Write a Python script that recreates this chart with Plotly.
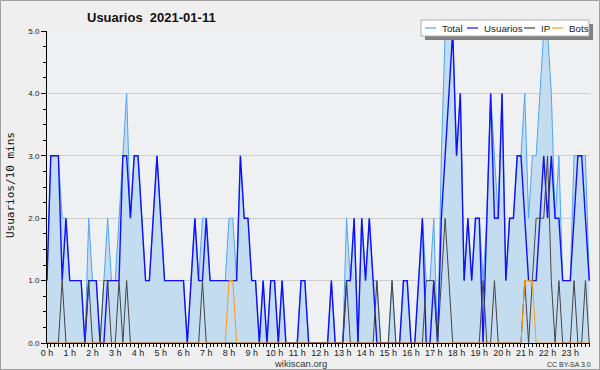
import plotly.graph_objects as go

# ---- data (10-minute slots, 144 per day) ----
usuarios = [1,3,3,3,1,2,1,1,1,1,0,1,1,1,0,0,1,1,1,1,3,3,2,3,
            3,2,1,1,2,3,2,1,1,1,1,1,1,0,1,2,1,1,2,1,1,1,1,1,
            1,1,1,3,2,2,1,1,0,1,0,1,1,0,1,0,0,0,0,1,1,0,0,0,
            0,0,0,1,0,0,0,1,1,2,0,2,1,2,1,0,0,0,0,0,0,0,1,1,
            0,0,1,2,0,0,1,0,2,3,4,5,3,4,1,2,1,2,2,0,2,4,2,2,
            4,1,2,2,3,3,2,1,1,1,2,3,2,3,2,2,1,1,1,2,3,3,2,1]
ip =       [0,0,0,0,1,0,0,0,0,0,0,1,0,0,0,1,1,0,0,1,0,1,0,0,
            0,0,0,0,0,0,0,0,0,0,0,0,0,0,0,0,0,1,0,0,0,0,0,0,
            0,0,0,0,0,0,0,0,0,0,0,0,0,0,0,0,0,0,0,0,0,0,0,0,
            0,0,0,0,0,0,0,1,0,0,0,0,0,0,0,1,0,0,0,1,0,0,0,0,
            0,0,0,0,1,1,1,0,1,2,1,0,0,0,0,0,0,0,0,1,0,0,1,0,
            0,0,0,0,0,0,1,0,1,2,2,2,3,1,0,1,0,0,0,1,0,0,1,0]
bots =     [0]*48 + [1,1] + [0]*76 + [1,1,1] + [0]*15
total =    [1,3,3,3,2,2,1,1,1,1,0,2,1,1,0,1,2,1,1,2,3,4,2,3,
            3,2,1,1,2,3,2,1,1,1,1,1,1,0,1,2,1,2,2,1,1,1,1,1,
            2,2,1,3,2,2,1,1,0,1,0,1,1,0,1,0,0,0,0,1,1,0,0,0,
            0,0,0,1,0,0,0,2,1,2,0,2,1,2,1,1,0,0,0,1,0,0,1,1,
            0,0,1,2,1,1,2,0,3,5,5,5,3,4,1,2,1,2,2,1,2,4,3,2,
            4,1,2,2,3,3,4,2,3,3,4,5,5,4,2,3,1,1,1,3,3,3,3,1]
slots = list(range(144))
hour_ticks = list(range(0, 144, 6))
hour_labels = [f"{h} h" for h in range(24)]
y_ticks = [0, 1, 2, 3, 4, 5]
y_labels = ["0.0", "1.0", "2.0", "3.0", "4.0", "5.0"]

title_text = "Usuarios  2021-01-11"
series_names = ["Total", "Usuarios", "IP", "Bots"]
series_colors = ["#4da6f5", "#1010ff", "#444444", "#ff9a10"]

W, H = 600, 370
L, R, T, B = 47, 10, 31, 27
PW, PH = W - L - R, H - T - B

def px(x):
    return (x - L) / PW

def py(y):
    return (H - B - y) / PH

fig = go.Figure()
fig.add_trace(go.Scatter(x=slots, y=total, mode="lines", name="Total",
                         line=dict(color=series_colors[0], width=1),
                         fill="tozeroy", fillcolor="#c4dcf0"))
fig.add_trace(go.Scatter(x=slots, y=usuarios, mode="lines", name="Usuarios",
                         line=dict(color=series_colors[1], width=1.4)))
fig.add_trace(go.Scatter(x=slots, y=ip, mode="lines", name="IP",
                         line=dict(color=series_colors[2], width=1)))
fig.add_trace(go.Scatter(x=slots, y=bots, mode="lines", name="Bots",
                         line=dict(color=series_colors[3], width=1)))

shapes = []
annotations = []

# outer border
shapes.append(dict(type="rect", xref="paper", yref="paper",
                   x0=px(0.5), x1=px(599.5), y0=py(369.5), y1=py(0.5),
                   line=dict(color="#a0a0a0", width=1), fillcolor="rgba(0,0,0,0)", layer="above"))

# legend shadow + box
shapes.append(dict(type="rect", xref="paper", yref="paper",
                   x0=px(425), x1=px(593), y0=py(40), y1=py(24),
                   line=dict(width=0), fillcolor="#808080", layer="above"))
shapes.append(dict(type="rect", xref="paper", yref="paper",
                   x0=px(421), x1=px(589), y0=py(36), y1=py(20),
                   line=dict(color="#b0b0b0", width=1), fillcolor="#ffffff", layer="above"))
leg_pos = [(425, 440), (467, 482), (524, 539), (552, 567)]
for (lx, tx), name, col in zip(leg_pos, series_names, series_colors):
    shapes.append(dict(type="line", xref="paper", yref="paper",
                       x0=px(lx), x1=px(lx + 11), y0=py(28), y1=py(28),
                       line=dict(color=col, width=1.2), layer="above"))
    annotations.append(dict(text=name, xref="paper", yref="paper", x=px(tx), y=py(28.5),
                            xanchor="left", yanchor="middle", showarrow=False,
                            font=dict(family="Liberation Sans", size=9.8, color="#222")))

annotations.append(dict(text=title_text, xref="paper", yref="paper", x=px(151), y=py(18),
                        xanchor="center", yanchor="middle", showarrow=False,
                        font=dict(family="Liberation Sans", size=13, color="#111", weight="bold")))
annotations.append(dict(text="Usuarios/10 mins", xref="paper", yref="paper", x=px(10), y=py(185),
                        xanchor="center", yanchor="middle", textangle=-90, showarrow=False,
                        font=dict(family="DejaVu Sans Mono", size=11, color="#111")))
annotations.append(dict(text="wikiscan.org", xref="paper", yref="paper", x=px(300), y=py(363.5),
                        xanchor="center", yanchor="middle", showarrow=False,
                        font=dict(family="Liberation Sans", size=9.5, color="#333")))
annotations.append(dict(text="CC BY-SA 3.0", xref="paper", yref="paper", x=px(569), y=py(364),
                        xanchor="center", yanchor="middle", showarrow=False,
                        font=dict(family="Liberation Sans", size=7, color="#333")))

fig.update_layout(
    width=W, height=H,
    margin=dict(l=L, r=R, t=T, b=B, pad=0),
    paper_bgcolor="#efefef", plot_bgcolor="#eef0f2",
    showlegend=False,
    shapes=shapes, annotations=annotations,
    xaxis=dict(range=[0, 143.2], tickvals=hour_ticks, ticktext=hour_labels,
               showgrid=False, zeroline=False, showline=True, linecolor="#000", linewidth=1,
               ticks="outside", ticklen=4, tickcolor="#000", tickwidth=1,
               ticklabelstandoff=-3,
               tickfont=dict(family="Liberation Sans", size=9, color="#222"),
               minor=dict(dtick=1, tick0=0, ticks="outside", ticklen=3, tickcolor="#000", showgrid=False)),
    yaxis=dict(range=[0, 5], tickvals=y_ticks, ticktext=y_labels,
               showgrid=True, gridcolor="#cfcfcf", gridwidth=1, zeroline=False,
               showline=True, linecolor="#000", linewidth=1,
               ticks="outside", ticklen=5, tickcolor="#000",
               tickfont=dict(family="Liberation Sans", size=8, color="#222"),
               minor=dict(dtick=0.25, tick0=0, ticks="outside", ticklen=3, tickcolor="#000", showgrid=False)),
)

fig.write_html("out.html")
